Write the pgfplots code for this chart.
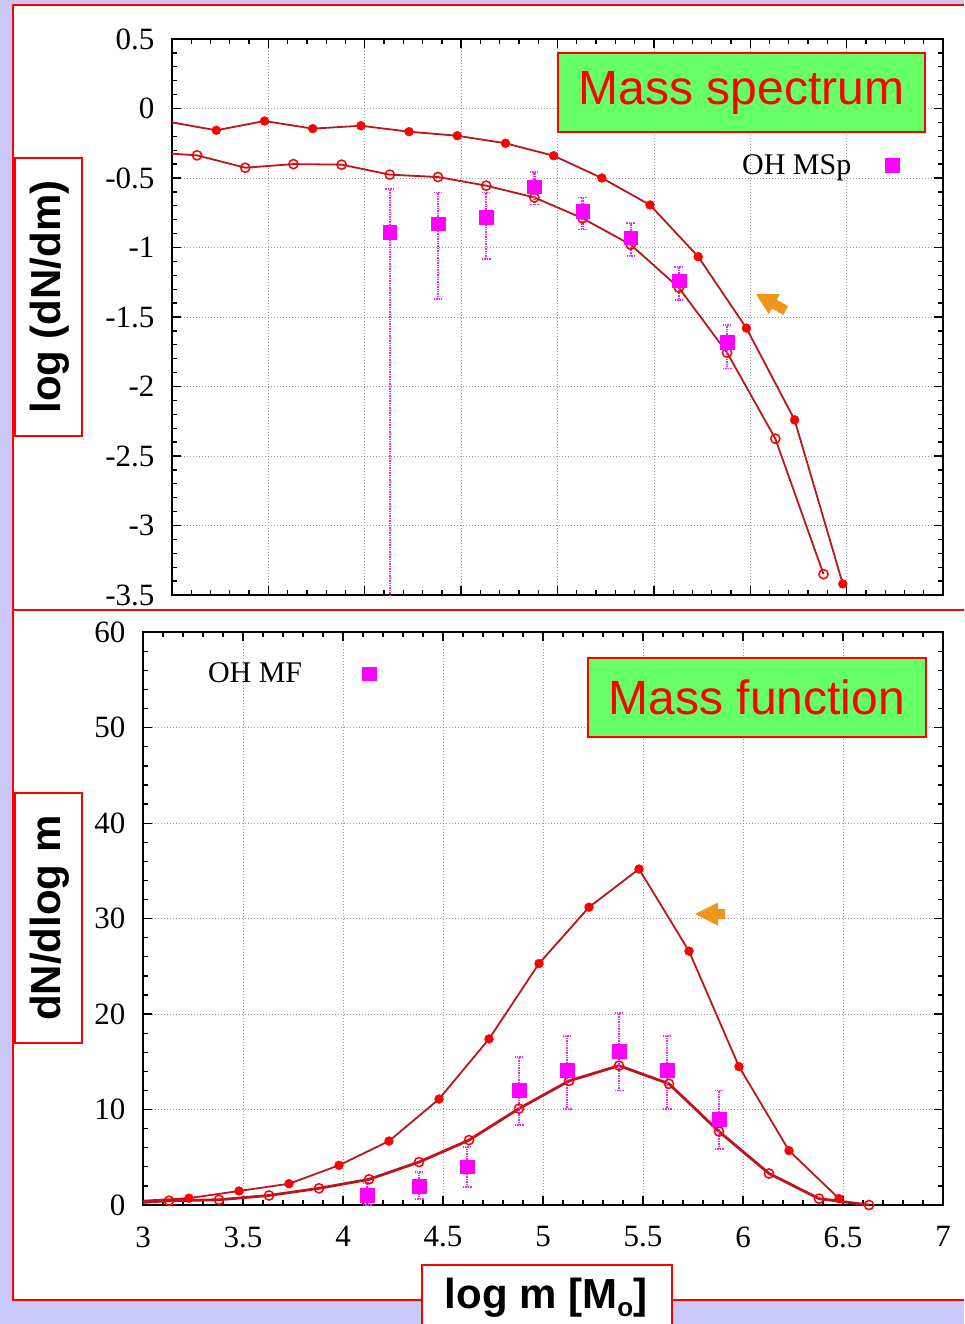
\documentclass[border=0pt]{standalone}
\usepackage{pgfplots}
\pgfplotsset{compat=1.18}
\usepackage{pgfplotstable}
\usepackage{fontspec}
\setmainfont{Liberation Serif}
\newfontfamily\sansf{Liberation Sans}

\definecolor{bgpanel}{RGB}{200,200,250}
\definecolor{boxgreen}{RGB}{102,255,102}
\definecolor{modelline}{RGB}{190,20,30}
\definecolor{arroworange}{RGB}{240,150,30}
\definecolor{obsmag}{RGB}{255,0,255}
\definecolor{barmag}{RGB}{235,40,235}

% mass spectrum, model with all clouds (filled) and reduced model (open)
\pgfplotstableread{
x y
3.00 -0.10
3.23 -0.157
3.48 -0.09
3.73 -0.145
3.98 -0.124
4.23 -0.167
4.48 -0.196
4.73 -0.25
4.98 -0.34
5.23 -0.50
5.48 -0.694
5.73 -1.066
5.98 -1.58
6.23 -2.24
6.48 -3.42
}\msfill
\pgfplotstableread{
x y
3.00 -0.325
3.13 -0.337
3.38 -0.426
3.63 -0.40
3.88 -0.404
4.13 -0.476
4.38 -0.493
4.63 -0.555
4.88 -0.64
5.13 -0.79
5.38 -0.98
5.63 -1.29
5.88 -1.757
6.13 -2.375
6.38 -3.35
}\msopen
\pgfplotstableread{
x y ep em
4.13 -0.89 0.31 2.9
4.38 -0.83 0.225 0.54
4.63 -0.78 0.175 0.30
4.88 -0.563 0.108 0.127
5.13 -0.74 0.10 0.13
5.38 -0.93 0.104 0.13
5.63 -1.24 0.10 0.14
5.88 -1.68 0.12 0.19
}\msobs

% mass function
\pgfplotstableread{
x y
3.00 0.45
3.23 0.72
3.48 1.47
3.73 2.23
3.98 4.16
4.23 6.7
4.48 11.1
4.73 17.4
4.98 25.3
5.23 31.2
5.48 35.2
5.73 26.6
5.98 14.5
6.23 5.7
6.48 0.67
}\mffill
\pgfplotstableread{
x y
3.00 0.28
3.13 0.45
3.38 0.55
3.63 1.0
3.88 1.75
4.13 2.69
4.38 4.5
4.63 6.8
4.88 10.1
5.13 13.0
5.38 14.6
5.63 12.7
5.88 7.7
6.13 3.3
6.38 0.67
6.63 0.0
}\mfopen
\pgfplotstableread{
x y ep em
4.12 1.05 1.25 1.05
4.38 2.0 1.5 1.4
4.62 4.0 2.1 2.1
4.88 12.0 3.5 3.6
5.12 14.1 3.6 4.0
5.38 16.1 4.0 4.1
5.62 14.1 3.6 4.0
5.88 9.0 3.0 3.1
}\mfobs

\pgfplotsset{
  gpstyle/.style={
    scale only axis,
    anchor=south west,
    xmin=3, xmax=7,
    xtick={3,3.5,4,4.5,5,5.5,6,6.5,7},
    minor x tick num=4, minor y tick num=4,
    tick align=inside,
    major tick length=9pt, minor tick length=5pt,
    every tick/.style={black, line width=1.3pt},
    axis line style={black, line width=2pt},
    grid=major,
    major grid style={gray!75, line width=0.7pt, dash pattern=on 1.2pt off 1.8pt},
    tick label style={font=\fontsize{31}{34}\selectfont},
    yticklabel style={xshift=-14pt},
    /pgf/number format/assume math mode=true,
    clip marker paths=false,
    legend style={draw=none, fill=none, font=\fontsize{30}{33}\selectfont,
      legend cell align=right, column sep=32pt},
    legend plot pos=right,
  },
  filledmodel/.style={color=modelline, line width=1.8pt, mark=*,
    mark size=4.4pt, mark options={fill=red, draw=red, line width=0.5pt},
    mark indices={2,3,4,5,6,7,8,9,10,11,12,13,14,15}, forget plot},
  openmodel/.style={color=modelline, line width=1.8pt, mark=o,
    mark size=4.6pt, mark options={draw=red, line width=1.5pt},
    mark indices={2,3,4,5,6,7,8,9,10,11,12,13,14,15,16}, forget plot},
  obsdata/.style={only marks, color=obsmag, mark=square*, mark size=6.8pt,
    mark options={fill=obsmag, draw=obsmag},
    error bars/.cd, y dir=both, y explicit,
    error bar style={color=barmag, line width=2.4pt, dash pattern=on 1.4pt off 1pt},
    error mark options={color=barmag, mark size=4.5pt, line width=1.8pt,
      dash pattern=on 1.4pt off 1pt, rotate=90}},
}

\begin{document}
\begin{tikzpicture}
\useasboundingbox (0,0) rectangle (964pt,-1324pt);
\fill[bgpanel] (0,0) rectangle (964pt,-1324pt);
\fill[white] (13pt,-5pt) rectangle (964pt,-1300pt);

% upper panel: mass spectrum
\begin{axis}[gpstyle,
  at={(172pt,-595pt)}, width=771pt, height=556pt,
  ymin=-3.5, ymax=0.5,
  ytick={-3.5,-3,-2.5,-2,-1.5,-1,-0.5,0,0.5},
  xticklabels={},
  legend style={at={(0.947,0.773)}, anchor=east},
]
\addplot[filledmodel] table[x=x, y=y] {\msfill};
\addplot[openmodel, mark indices={2,3,4,5,6,7,8,9,10,11,12,13,14,15}] table[x=x, y=y] {\msopen};
\addplot[obsdata] table[x=x, y=y, y error plus=ep, y error minus=em] {\msobs};
\addlegendentry{OH MSp}
\end{axis}

% lower panel: mass function
\begin{axis}[gpstyle,
  at={(143pt,-1205pt)}, width=800pt, height=572.7pt,
  ymin=0, ymax=60,
  ytick={0,10,20,30,40,50,60},
  xticklabel style={yshift=-18pt},
  legend style={at={(0.295,0.928)}, anchor=east, column sep=58pt},
]
\addplot[filledmodel] table[x=x, y=y] {\mffill};
\addplot[openmodel, line width=2.8pt] table[x=x, y=y] {\mfopen};
\addplot[obsdata] table[x=x, y=y, y error plus=ep, y error minus=em] {\mfobs};
\addlegendentry{OH MF}
\end{axis}

% frame lines
\draw[red, line width=2pt] (964pt,-5pt) -- (13pt,-5pt) -- (13pt,-1300pt) -- (964pt,-1300pt);
\draw[red, line width=2pt] (13pt,-610pt) -- (964pt,-610pt);

% panel titles
\node[draw=red, fill=boxgreen, line width=2pt, minimum width=367pt, minimum height=79pt,
  inner sep=0pt, text=red, font=\sansf\fontsize{48}{50}\selectfont]
  at (741.5pt,-92.5pt) {Mass spectrum};
\node[draw=red, fill=boxgreen, line width=2pt, minimum width=338pt, minimum height=79pt,
  inner sep=0pt, text=red, font=\sansf\fontsize{48}{50}\selectfont]
  at (757pt,-697.5pt) {Mass function};

% axis titles
\node[draw=red, fill=white, line width=2pt, minimum width=67pt, minimum height=278pt,
  inner sep=0pt] at (48.5pt,-297pt) {};
\node[rotate=90, font=\sansf\bfseries\fontsize{42}{44}\selectfont]
  at (50pt,-297pt) {log (dN/dm)};
\node[draw=red, fill=white, line width=2pt, minimum width=67pt, minimum height=250pt,
  inner sep=0pt] at (48.5pt,-918pt) {};
\node[rotate=90, font=\sansf\bfseries\fontsize{42}{44}\selectfont]
  at (50pt,-918pt) {dN/dlog m};
\fill[white] (422pt,-1265pt) rectangle (672pt,-1330pt);
\draw[red, line width=2pt] (422pt,-1330pt) -- (422pt,-1265pt) -- (672pt,-1265pt) -- (672pt,-1330pt);
\node[anchor=base, font=\sansf\bfseries\fontsize{42}{44}\selectfont]
  at (546pt,-1308pt) {log m [M\raisebox{-0.2em}{\fontsize{26}{26}\selectfont o}]};

% pointer arrows
\begin{scope}[shift={(756pt,-294pt)}, rotate=-29]
\fill[arroworange] (0,0) -- (21pt,11.5pt) -- (21pt,5pt) -- (34pt,5pt) -- (34pt,-5pt)
  -- (21pt,-5pt) -- (21pt,-11.5pt) -- cycle;
\end{scope}
\begin{scope}[shift={(695pt,-914pt)}]
\fill[arroworange] (0,0) -- (23pt,11.5pt) -- (23pt,5pt) -- (30pt,5pt) -- (30pt,-5pt)
  -- (23pt,-5pt) -- (23pt,-11.5pt) -- cycle;
\end{scope}
\end{tikzpicture}
\end{document}
